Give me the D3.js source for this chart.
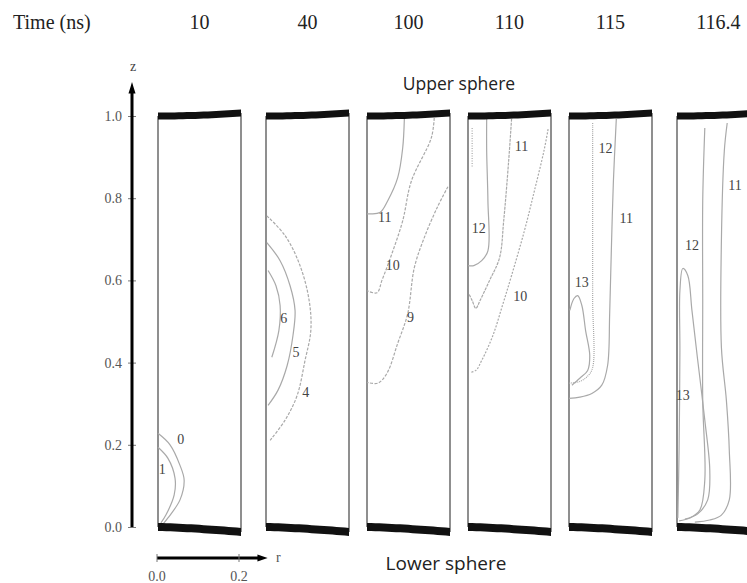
<!DOCTYPE html>
<head>
    <meta charset="utf-8">
    <style>
        body {
            margin: 0;
            padding: 0;
            background: #fff;
        }
        svg {
            display: block;
        }
        .serif {
            font-family: "Liberation Serif", "DejaVu Serif", serif;
        }
        .contour {
            fill: none;
            stroke: #a9a9a9;
            stroke-width: 1.2;
            stroke-linejoin: round;
        }
        .clabel {
            font-family: "Liberation Serif", serif;
            font-size: 14px;
            fill: #444;
            text-anchor: middle;
            dominant-baseline: central;
        }
        .sphere {
            font-family: "Open Sans", sans-serif;
            fill: #222;
            text-anchor: middle;
        }
        .zaxis text {
            font-family: "Liberation Serif", serif;
            font-size: 14px;
            fill: #555;
        }
        .zaxis line {
            stroke: #777;
        }
    </style>
    <script src="https://d3js.org/d3.v7.min.js"></script>
</head>
<body>
    <svg width="747" height="583"></svg>
    <script>
        // data
        var times = ["10", "40", "100", "110", "115", "116.4"];
        var zTicks = [0, 0.2, 0.4, 0.6, 0.8, 1.0];
        var rTicks = [0, 0.2];

        // contour lines for each time step: level, points [r, z], label position [r, z]
        var contours10 = [
            {level: 0, pts: [[0, 0.228], [0.029, 0.2], [0.053, 0.15], [0.063, 0.114], [0.053, 0.066], [0.024, 0.022], [0.012, 0.007]], at: [0.055, 0.213]},
            {level: 1, pts: [[0, 0.194], [0.024, 0.167], [0.041, 0.119], [0.039, 0.078], [0.019, 0.029], [0.007, 0.01]], at: [0.01, 0.14]}
        ];
        var contours40 = [
            {level: 4, pts: [[0.002, 0.757], [0.046, 0.709], [0.082, 0.636], [0.104, 0.551], [0.108, 0.478], [0.094, 0.405], [0.075, 0.32], [0.046, 0.26], [0.01, 0.211]], at: [0.096, 0.328]},
            {level: 5, pts: [[0.002, 0.692], [0.034, 0.648], [0.058, 0.587], [0.07, 0.527], [0.065, 0.466], [0.051, 0.393], [0.029, 0.333], [0.005, 0.296]], at: [0.072, 0.425]},
            {level: 6, pts: [[0.005, 0.624], [0.024, 0.587], [0.034, 0.539], [0.031, 0.478], [0.014, 0.413]], at: [0.043, 0.507]}
        ];
        var contours100 = [
            {level: 11, pts: [[0.09, 0.993], [0.086, 0.922], [0.074, 0.85], [0.05, 0.794], [0.031, 0.765], [0.007, 0.762], [0, 0.762]], at: [0.043, 0.752]},
            {level: 10, pts: [[0.162, 0.995], [0.155, 0.947], [0.107, 0.842], [0.086, 0.745], [0.06, 0.665], [0.036, 0.6], [0.024, 0.57], [0, 0.575]], at: [0.062, 0.636]},
            {level: 9, pts: [[0.195, 0.828], [0.169, 0.777], [0.138, 0.704], [0.114, 0.631], [0.098, 0.519], [0.074, 0.447], [0.048, 0.374], [0.026, 0.35], [0, 0.352]], at: [0.105, 0.51]}
        ];
        var contours110 = [
            {level: 12, pts: [[0.045, 0.993], [0.045, 0.915], [0.048, 0.794], [0.048, 0.672], [0.033, 0.648], [0.014, 0.636], [0, 0.636]], at: [0.026, 0.726]},
            {level: 11, pts: [[0.105, 0.993], [0.098, 0.891], [0.086, 0.745], [0.076, 0.655], [0.052, 0.6], [0.029, 0.551], [0.019, 0.532], [0.01, 0.551], [0.002, 0.568]], at: [0.129, 0.925]},
            {level: 10, pts: [[0.193, 0.968], [0.183, 0.915], [0.16, 0.818], [0.136, 0.721], [0.105, 0.612], [0.083, 0.539], [0.06, 0.466], [0.033, 0.405], [0.019, 0.381], [0.005, 0.376]], at: [0.126, 0.561]},
            {level: 13, pts: [[0.01, 0.971], [0.01, 0.874]], at: null}
        ];
        var contours115 = [
            {level: 12, pts: [[0.057, 0.983], [0.057, 0.842], [0.057, 0.697], [0.057, 0.551], [0.057, 0.388], [0.045, 0.367], [0.026, 0.354], [0, 0.35]], at: [0.088, 0.922]},
            {level: 11, pts: [[0.114, 0.993], [0.107, 0.842], [0.102, 0.672], [0.098, 0.519], [0.093, 0.393], [0.079, 0.345], [0.055, 0.325], [0.026, 0.316], [0, 0.313]], at: [0.138, 0.75]},
            {level: 13, pts: [[0.002, 0.527], [0.012, 0.556], [0.021, 0.563], [0.031, 0.539], [0.04, 0.478], [0.05, 0.417], [0.045, 0.381], [0.026, 0.362], [0.007, 0.345]], at: [0.031, 0.595]}
        ];
        var contours116 = [
            {level: 11, pts: [[0.121, 0.983], [0.114, 0.915], [0.107, 0.697], [0.107, 0.437], [0.119, 0.308], [0.126, 0.187], [0.126, 0.066], [0.107, 0.029], [0.079, 0.017], [0.043, 0.012]], at: [0.14, 0.83]},
            {level: 12, pts: [[0.067, 0.971], [0.062, 0.794], [0.062, 0.551], [0.062, 0.308], [0.067, 0.114], [0.055, 0.041], [0.031, 0.022], [0.005, 0.015]], at: [0.036, 0.684]},
            {level: 13, pts: [[0.002, 0.022], [0.005, 0.187], [0.007, 0.43], [0.007, 0.575], [0.014, 0.629], [0.026, 0.612], [0.036, 0.527], [0.05, 0.405], [0.067, 0.26], [0.079, 0.138], [0.074, 0.066], [0.05, 0.032], [0.019, 0.019]], at: [0.014, 0.32]}
        ];
        var panels = [contours10, contours40, contours100, contours110, contours115, contours116];

        // layout
        var svg = d3.select("svg");
        var panelX = [158, 266, 367, 468, 569, 677];
        var panelW = 83;
        var y = d3.scaleLinear().domain([0, 1]).range([527, 116]);

        // dashed lines (panel index + level)
        var dashes = {"1-4": "3,1.5", "2-10": "3,1.5", "2-9": "3,1.5", "3-10": "2,1.5", "3-13": "1,1.5", "4-12": "1,1", "3-11": "3,1"};

        // sphere surfaces
        function zTop(r) { return 1 + 0.0075 * Math.pow(r / 0.2, 2); }
        function zBot(r) { return -0.012 * Math.pow(r / 0.2, 1.4); }
        var rs = d3.range(0, 0.2001, 0.01);

        var line = d3.line().curve(d3.curveCatmullRom.alpha(0.5));

        panels.forEach(function (cs, i) {
            var x = d3.scaleLinear().domain([0, 0.2]).range([panelX[i], panelX[i] + panelW]);
            var g = svg.append("g");

            // side walls
            [0, 0.2].forEach(function (r) {
                g.append("line")
                    .attr("x1", x(r)).attr("x2", x(r))
                    .attr("y1", y(zTop(r))).attr("y2", y(zBot(r)))
                    .attr("stroke", "#333").attr("stroke-width", 1.1);
            });

            // contour lines
            cs.forEach(function (c) {
                g.append("path")
                    .attr("class", "contour")
                    .attr("stroke-dasharray", dashes[i + "-" + c.level] || null)
                    .attr("d", line(c.pts.map(function (p) { return [x(p[0]), y(p[1])]; })));
                if (c.at) {
                    g.append("text")
                        .attr("class", "clabel")
                        .attr("x", x(c.at[0]))
                        .attr("y", y(c.at[1]))
                        .text(c.level);
                }
            });

            // upper and lower sphere
            g.append("path")
                .attr("fill", "#111")
                .attr("d", d3.area()
                    .x(function (r) { return x(r); })
                    .y0(function (r) { return y(zTop(r)) - 3.5; })
                    .y1(function (r) { return y(zTop(r)) + 3.5; })(rs));
            g.append("path")
                .attr("fill", "#111")
                .attr("d", d3.area()
                    .x(function (r) { return x(r); })
                    .y0(function (r) { return y(zBot(r)) - 4; })
                    .y1(function (r) { return y(zBot(r)) + 4; })(rs));

            // time label
            svg.append("text")
                .attr("class", "serif")
                .attr("x", x(0.1))
                .attr("y", 29)
                .attr("text-anchor", "middle")
                .attr("font-size", 20)
                .attr("fill", "#222")
                .text(times[i]);
        });

        svg.append("text")
            .attr("class", "serif")
            .attr("x", 13)
            .attr("y", 29)
            .attr("font-size", 20)
            .attr("fill", "#222")
            .text("Time (ns)");

        // z axis
        var zx = 132;
        var zAxis = svg.append("g")
            .attr("class", "zaxis")
            .attr("transform", "translate(" + zx + ",0)")
            .call(d3.axisLeft(y).tickValues(zTicks).tickFormat(d3.format(".1f")).tickSize(4).tickPadding(6));
        zAxis.select(".domain").remove();
        zAxis.selectAll(".tick line").attr("x1", 4);
        svg.append("line")
            .attr("x1", zx).attr("x2", zx)
            .attr("y1", y(0)).attr("y2", y(1.06))
            .attr("stroke", "#000").attr("stroke-width", 3);
        svg.append("path")
            .attr("fill", "#000")
            .attr("d", "M" + zx + "," + y(1.083) + "L" + (zx - 3.5) + "," + y(1.055) + "L" + (zx + 3.5) + "," + y(1.055) + "Z");
        svg.append("text")
            .attr("class", "serif")
            .attr("x", zx + 1)
            .attr("y", 71)
            .attr("text-anchor", "middle")
            .attr("font-size", 14)
            .attr("fill", "#444")
            .text("z");

        // r axis
        var rx = d3.scaleLinear().domain([0, 0.2]).range([157, 239]);
        var ry = 558;
        svg.append("line")
            .attr("x1", rx(0)).attr("x2", rx(0.25))
            .attr("y1", ry).attr("y2", ry)
            .attr("stroke", "#000").attr("stroke-width", 3);
        svg.append("path")
            .attr("fill", "#000")
            .attr("d", "M" + rx(0.27) + "," + ry + "L" + rx(0.245) + "," + (ry - 3.5) + "L" + rx(0.245) + "," + (ry + 3.5) + "Z");
        rTicks.forEach(function (t) {
            svg.append("line")
                .attr("x1", rx(t)).attr("x2", rx(t))
                .attr("y1", ry - 4).attr("y2", ry + 4)
                .attr("stroke", "#777");
            svg.append("text")
                .attr("class", "serif")
                .attr("x", rx(t))
                .attr("y", 581)
                .attr("text-anchor", "middle")
                .attr("font-size", 14)
                .attr("fill", "#555")
                .text(d3.format(".1f")(t));
        });
        svg.append("text")
            .attr("class", "serif")
            .attr("x", rx(0.29))
            .attr("y", ry + 4)
            .attr("font-size", 14)
            .attr("fill", "#555")
            .text("r");

        // sphere labels
        svg.append("text")
            .attr("class", "sphere")
            .attr("x", 459)
            .attr("y", 90)
            .attr("font-size", 17.5)
            .text("Upper sphere");
        svg.append("text")
            .attr("class", "sphere")
            .attr("x", 446)
            .attr("y", 570)
            .attr("font-size", 19)
            .text("Lower sphere");
    </script>
</body>
</html>
